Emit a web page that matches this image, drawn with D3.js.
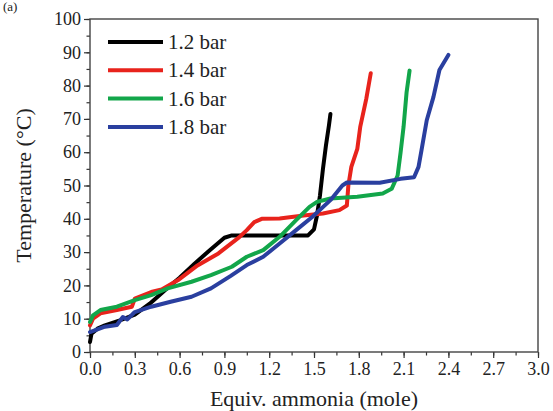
<!DOCTYPE html>
<html>
<head>
<meta charset="utf-8">
<script src="https://cdn.jsdelivr.net/npm/d3@7"></script>
<style>
  body { margin: 0; background: #fff; }
  svg text { font-family: "Liberation Serif", "Times New Roman", serif !important; fill: #222; }
</style>
</head>
<body>
<div id="chart"></div>
<script>
// series names and colours
var seriesNames = ["1.2 bar", "1.4 bar", "1.6 bar", "1.8 bar"];
var seriesColors = ["#000000", "#e8231c", "#12a64a", "#2a3f9f"];

// [equiv. ammonia, temperature]
var bar12 = [[0,3],[0.01,5.5],[0.05,7],[0.1,8],[0.2,9.5],[0.3,11.2],[0.4,14.5],[0.5,18.5],[0.6,22.3],
  [0.7,26.5],[0.8,30.5],[0.9,34.3],[0.95,35],[1.2,35],[1.46,35],[1.5,36.8],[1.52,41],[1.54,47],
  [1.56,55],[1.58,62],[1.6,68],[1.61,71.5]];
var bar14 = [[0,8],[0.02,10],[0.07,11.6],[0.18,12.6],[0.28,13.6],[0.3,16],[0.41,18],[0.48,18.8],
  [0.59,21.6],[0.72,26],[0.86,29.6],[1.0,34.5],[1.05,36.6],[1.1,39],[1.15,40],[1.27,40.1],[1.43,41],
  [1.56,41.6],[1.67,42.6],[1.72,44],[1.73,50],[1.75,55.6],[1.79,61],[1.81,67.7],[1.85,76],[1.88,83.7]];
var bar16 = [[0,9],[0.02,11],[0.07,12.6],[0.18,13.6],[0.3,15.6],[0.41,17.1],[0.52,19.1],[0.68,21.1],
  [0.81,23.1],[0.95,25.6],[1.05,28.6],[1.16,30.6],[1.27,34.6],[1.38,39.6],[1.47,43.6],[1.52,45.1],
  [1.61,46.1],[1.79,46.6],[1.96,47.6],[2.02,49],[2.06,53],[2.08,60],[2.1,67.7],[2.12,78],[2.14,84.5]];
var bar18 = [[0,6],[0.1,7.6],[0.18,8.1],[0.22,10.5],[0.25,9.8],[0.3,12],[0.41,13.6],[0.54,15.1],
  [0.68,16.6],[0.81,19.1],[0.94,22.8],[1.05,26.1],[1.16,28.6],[1.27,32.6],[1.38,36.6],[1.49,40.6],
  [1.61,45.6],[1.69,50],[1.72,50.9],[1.94,50.8],[2.08,52],[2.17,52.5],[2.2,55.6],[2.22,60.6],
  [2.255,69.6],[2.3,76.6],[2.34,84.7],[2.4,89.2]];
var allSeries = [bar12, bar14, bar16, bar18];

// ticks
var xTicks = [0, 0.3, 0.6, 0.9, 1.2, 1.5, 1.8, 2.1, 2.4, 2.7, 3.0];
var yTicks = [0, 10, 20, 30, 40, 50, 60, 70, 80, 90, 100];

var W = 553, H = 411;
var margin = {top: 19, left: 90, right: 15, bottom: 59};
var width = W - margin.left - margin.right,
    height = H - margin.top - margin.bottom;

var svg = d3.select("#chart").append("svg")
    .attr("width", W)
    .attr("height", H)
    .attr("font-family", "Liberation Serif, serif");

var g = svg.append("g")
    .attr("transform", "translate(" + margin.left + "," + margin.top + ")");

var x = d3.scaleLinear().domain([0, 3]).range([0, width]);
var y = d3.scaleLinear().domain([0, 100]).range([height, 0]);

// minor ticks
var xMinor = d3.range(0, 3.01, 0.15);
var yMinor = d3.range(0, 100.1, 5);

g.append("g")
    .attr("transform", "translate(0," + height + ")")
    .call(d3.axisBottom(x).tickValues(xMinor).tickSize(3.5).tickFormat(""))
    .call(a => a.select(".domain").remove());
g.append("g")
    .call(d3.axisLeft(y).tickValues(yMinor).tickSize(3.5).tickFormat(""))
    .call(a => a.select(".domain").remove());

var xAxis = g.append("g")
    .attr("transform", "translate(0," + height + ")")
    .call(d3.axisBottom(x).tickValues(xTicks).tickSize(6).tickPadding(4).tickFormat(d3.format(".1f")));
var yAxis = g.append("g")
    .call(d3.axisLeft(y).tickValues(yTicks).tickSize(6).tickPadding(3).tickFormat(d3.format("d")));

[xAxis, yAxis].forEach(a => {
  a.attr("font-family", "Liberation Serif, serif").attr("font-size", 18);
  a.selectAll("text").attr("fill", "#222");
  a.select(".domain").remove();
});
g.selectAll(".tick line").attr("stroke", "#333").attr("stroke-width", 1.2);

// frame
g.append("rect")
    .attr("width", width)
    .attr("height", height)
    .attr("fill", "none")
    .attr("stroke", "#444")
    .attr("stroke-width", 1.4);

// curves
var line = d3.line()
    .x(d => x(d[0]))
    .y(d => y(d[1]));

g.selectAll(".curve")
    .data(allSeries)
    .enter().append("path")
    .attr("class", "curve")
    .attr("fill", "none")
    .attr("stroke", (d, i) => seriesColors[i])
    .attr("stroke-width", 4)
    .attr("stroke-linejoin", "round")
    .attr("stroke-linecap", "round")
    .attr("d", line);

// legend
var legend = g.selectAll(".legend")
    .data(seriesNames)
    .enter().append("g")
    .attr("class", "legend")
    .attr("transform", (d, i) => "translate(18," + (23 + i * 28.3) + ")");

legend.append("line")
    .attr("x1", 0).attr("x2", 55)
    .attr("stroke", (d, i) => seriesColors[i])
    .attr("stroke-width", 4);

legend.append("text")
    .attr("x", 60)
    .attr("y", 7)
    .attr("font-size", 21)
    .text(d => d);

// axis titles
svg.append("text")
    .attr("x", margin.left + width / 2)
    .attr("y", 406)
    .attr("text-anchor", "middle")
    .attr("font-size", 22)
    .text("Equiv. ammonia (mole)");

svg.append("text")
    .attr("transform", "translate(31," + (margin.top + height / 2) + ") rotate(-90)")
    .attr("text-anchor", "middle")
    .attr("font-size", 22)
    .text("Temperature (°C)");

// panel label in the top-left corner
svg.append("text")
    .attr("x", 3)
    .attr("y", 11)
    .attr("font-size", 13)
    .text("(a)");
</script>
</body>
</html>
